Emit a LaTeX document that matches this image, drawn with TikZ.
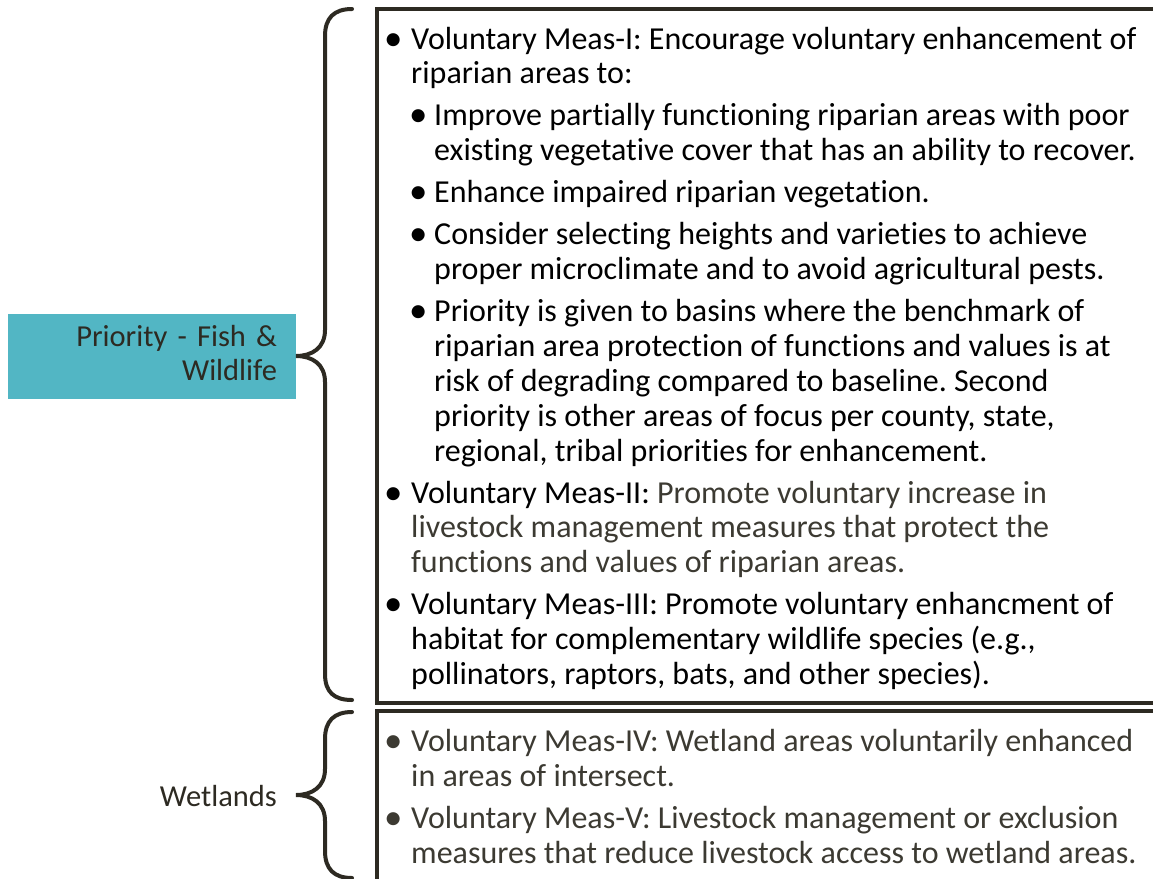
\documentclass[tikz,border=0pt]{standalone}
\usepackage{fontspec}
\setmainfont{Carlito}[Ligatures=CommonOff]
\usetikzlibrary{positioning}
\definecolor{inkline}{RGB}{45,42,34}
\definecolor{greytext}{RGB}{60,58,50}
\definecolor{fishteal}{RGB}{82,182,196}
\newcommand{\gtx}[1]{\textcolor{greytext}{#1}}
\newcommand{\bdot}{\makebox[0pt][c]{\raisebox{-1pt}{\scalebox{1.15}{\textbullet}}}}
\newcommand{\bul}{\strut\llap{\bdot\hspace{18pt}}}
\newcommand{\subbul}{\strut\llap{\bdot\hspace{16pt}}}
\frenchspacing

\begin{document}
\begin{tikzpicture}[x=1pt, y=-1pt,
	      item/.style={anchor=north west, inner sep=0pt, align=left,
	        font=\fontsize{32}{34.8}\selectfont},
	      next/.style={below=6.9pt of #1.south west, anchor=north west},
	      label/.style={text=inkline, font=\fontsize{30.5}{34.8}\selectfont},
	      frame/.style={draw=inkline, line width=4pt},
	      brace/.style={draw=inkline, line width=4pt, line cap=round}]
\useasboundingbox (0,0) rectangle (1153,878);

\node[item] (meas1) at (411,24.5) {\bul Voluntary Meas-I: Encourage voluntary enhancement of\\ riparian areas to:\strut};
\node[item, next=meas1, xshift=23pt] (improve) {\subbul Improve partially functioning riparian areas with poor\\ existing vegetative cover that has an ability to recover.\strut};
\node[item, next=improve] (enhance) {\subbul Enhance impaired riparian vegetation.\strut};
\node[item, next=enhance] (consider) {\subbul Consider selecting heights and varieties to achieve\\ proper microclimate and to avoid agricultural pests.\strut};
\node[item, next=consider] (basins) {\subbul Priority is given to basins where the benchmark of\\ riparian area protection of functions and values is at\\ risk of degrading compared to baseline. Second\\ priority is other areas of focus per county, state,\\ regional, tribal priorities for enhancement.\strut};
\node[item, next=basins, xshift=-23pt] (meas2) {\bul Voluntary Meas-II: \gtx{Promote voluntary increase in}\\ \gtx{livestock management measures that protect the}\\ \gtx{functions and values of riparian areas.}\strut};
\node[item, next=meas2] (meas3) {\bul Voluntary Meas-III: Promote voluntary enhancment of\\ habitat for complementary wildlife species (e.g.,\\ pollinators, raptors, bats, and other species).\strut};

\node[item, text=greytext] (meas4) at (411,727.3) {\bul Voluntary Meas-IV: Wetland areas voluntarily enhanced\\ in areas of intersect.\strut};
\node[item, text=greytext, next=meas4] (meas5) {\bul Voluntary Meas-V: Livestock management or exclusion\\ measures that reduce livestock access to wetland areas.\strut};

\node[label, fill=fishteal, minimum height=85pt, text width=250pt,
      inner xsep=19pt, inner ysep=0pt, align=right] (fish) at (152,356.5)
      {\strut Priority - Fish \&\\ Wildlife\strut};
\node[label, anchor=base east, inner sep=0pt] (wetlands) at (277,806.5) {Wetlands};

\draw[frame] (377,9) rectangle (1170,703);
\draw[frame] (377,711) rectangle (1170,900);

\draw[brace] (352,9) .. controls (334,9) and (325,18) .. (325,36) -- (325,330)
  .. controls (325,348) and (312,356) .. (296,356)
  .. controls (312,356) and (325,364) .. (325,382) -- (325,674)
  .. controls (325,692) and (334,700) .. (352,700);
\draw[brace] (352,712) .. controls (334,712) and (325,721) .. (325,739) -- (325,769)
  .. controls (325,787) and (312,795) .. (296,795)
  .. controls (312,795) and (325,803) .. (325,821) -- (325,851)
  .. controls (325,869) and (334,878) .. (352,878);
\end{tikzpicture}
\end{document}
